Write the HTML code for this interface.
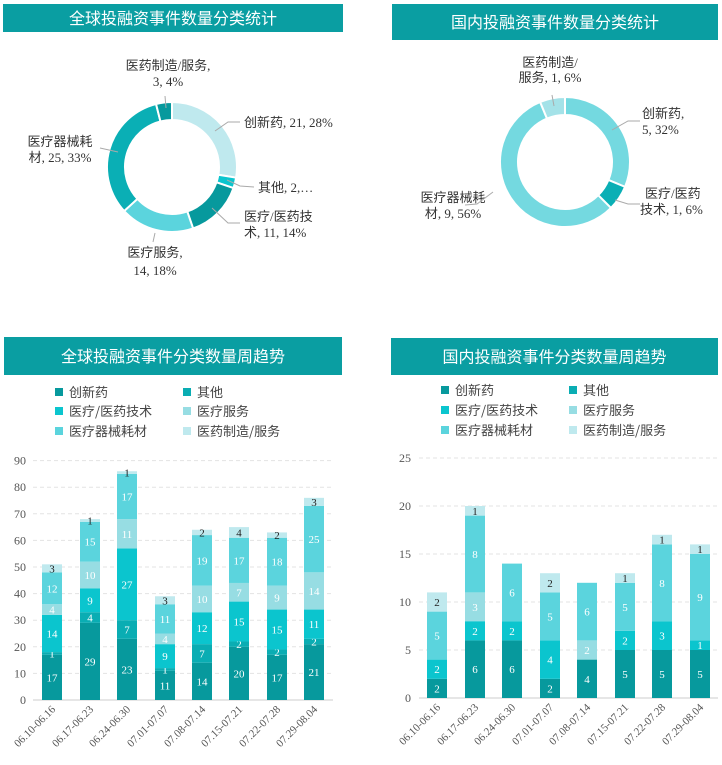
<!DOCTYPE html>
<html><head><meta charset="utf-8"><style>
body{margin:0;background:#fff;width:722px;height:765px;overflow:hidden}
svg{display:block;font-family:"Liberation Serif","Noto Sans CJK SC",serif}
</style></head><body>
<svg id="s" width="722" height="765" xmlns="http://www.w3.org/2000/svg"></svg>
<script>
const C=['#07999d','#0aadb3','#0bc5ce','#97dde3','#5bd4dd','#bfe9ee'];
let h='';
function hdr(x,y,w,hh,t){h+=`<rect x="${x}" y="${y}" width="${w}" height="${hh}" fill="#0a9ea2"/><text x="${x+w/2}" y="${y+hh/2+6}" text-anchor="middle" fill="#fff" font-size="16" font-family="Noto Sans CJK SC,sans-serif">${t}</text>`;}
hdr(3,4,340,28,'全球投融资事件数量分类统计');
hdr(392,4,326,36,'国内投融资事件数量分类统计');
hdr(4,337,338,38,'全球投融资事件分类数量周趋势');
hdr(391,338,327,37,'国内投融资事件分类数量周趋势');
function donut(cx,cy,R,r,vals,cols){
 let tot=vals.reduce((a,b)=>a+b,0),a=-Math.PI/2;
 vals.forEach((v,i)=>{let b=a+v/tot*2*Math.PI,l=(b-a)>Math.PI?1:0;
 const p=(rr,t)=>(cx+rr*Math.cos(t)).toFixed(2)+' '+(cy+rr*Math.sin(t)).toFixed(2);
 h+=`<path d="M${p(R,a)} A${R} ${R} 0 ${l} 1 ${p(R,b)} L${p(r,b)} A${r} ${r} 0 ${l} 0 ${p(r,a)}Z" fill="${cols[i]}" stroke="#fff" stroke-width="2"/>`;a=b;});
}
donut(172,167,65,47,[21,2,11,14,25,3],['#bfe9ee','#0bc5ce','#07999d','#5bd4dd','#0aafb5','#07999d']);
donut(565,162,65,47,[5,1,9,1],['#74d9e0','#0aafb5','#74d9e0','#a4e2e8']);
function t(x,y,s,a,fs,col){h+=`<text x="${x}" y="${y}" font-size="${fs||13}" fill="${col||'#333'}" text-anchor="${a||'start'}">${s}</text>`;}
function ln(pts){h+=`<polyline points="${pts}" fill="none" stroke="#aaa" stroke-width="1"/>`;}
t(168,70,'医药制造/服务,','middle');t(168,86,'3, 4%','middle');ln('165,96 166,108');
t(244,127,'创新药, 21, 28%');ln('215,131 228,122 240,122');
t(258,192,'其他, 2,…');ln('227,180 240,186 254,187');
t(244,221,'医疗/医药技');t(244,237,'术, 11, 14%');ln('212,208 228,223 240,223');
t(155,257,'医疗服务,','middle');t(155,275,'14, 18%','middle');ln('155,233 153,242');
t(60,146,'医疗器械耗','middle');t(60,162,'材, 25, 33%','middle');ln('100,148 118,152');
t(550,67,'医药制造/','middle');t(550,82,'服务, 1, 6%','middle');ln('552,95 554,106');
t(642,118,'创新药,');t(642,134,'5, 32%');ln('612,130 628,121 640,121');
t(645,198,'医疗/医药');t(640,214,'技术, 1, 6%');ln('615,200 628,204 640,204');
t(453,202,'医疗器械耗','middle');t(453,218,'材, 9, 56%','middle');ln('493,192 477,204 465,205');
const L=['创新药','其他','医疗/医药技术','医疗服务','医疗器械耗材','医药制造/服务'];
function leg(x1,x2,ys){L.forEach((s,i)=>{let x=i%2?x2:x1,y=ys[i>>1];h+=`<rect x="${x}" y="${y-4}" width="8" height="8" fill="${C[i]}"/>`;h+=`<text x="${x+14}" y="${y+5}" font-size="13" fill="#444" font-family="Noto Sans CJK SC,sans-serif">${s}</text>`;});}
leg(55,183,[392,411,431]);leg(441,569,[390,410,430]);
const W=['06.10-06.16','06.17-06.23','06.24-06.30','07.01-07.07','07.08-07.14','07.15-07.21','07.22-07.28','07.29-08.04'];
function bars(x0,x1,y0,ppu,step,max,ylx,cs,data){
 for(let v=0;v<=max;v+=step){let y=y0-v*ppu;
  if(v>0)h+=`<line x1="${x0}" y1="${y}" x2="${x1}" y2="${y}" stroke="#e3e3e3" stroke-dasharray="4,3"/>`;
  t(ylx,y+4,v,'end',12,'#555');}
 h+=`<line x1="${x0}" y1="${y0}" x2="${x1}" y2="${y0}" stroke="#ccc"/>`;
 data.forEach((d,i)=>{let cx=cs[i],y=y0;
  d.forEach((v,k)=>{if(!v)return;let hh=v*ppu;y-=hh;
   h+=`<rect x="${cx-10}" y="${y}" width="20" height="${hh}" fill="${C[k]}"/>`;
   t(cx,y+hh/2+4,v,'middle',11,k==5?'#222':'#fff');});
  h+=`<text transform="translate(${cx+4},${y0+10}) rotate(-45)" text-anchor="end" font-size="11" fill="#555">${W[i]}</text>`;
 });
}
bars(33,333,700,2.66,10,90,26,[52,90,127,165,202,239,277,314],
[[17,1,14,4,12,3],[29,4,9,10,15,1],[23,7,27,11,17,1],[11,1,9,4,11,3],[14,7,12,10,19,2],[20,2,15,7,17,4],[17,2,15,9,18,2],[21,2,11,14,25,3]]);
bars(419,718,698,9.6,5,25,411,[437,475,512,550,587,625,662,700],
[[2,0,2,0,5,2],[6,0,2,3,8,1],[6,0,2,0,6,0],[2,0,4,0,5,2],[4,0,0,2,6,0],[5,0,2,0,5,1],[5,0,3,0,8,1],[5,0,1,0,9,1]]);
document.getElementById('s').innerHTML=h;
</script>
</body></html>
